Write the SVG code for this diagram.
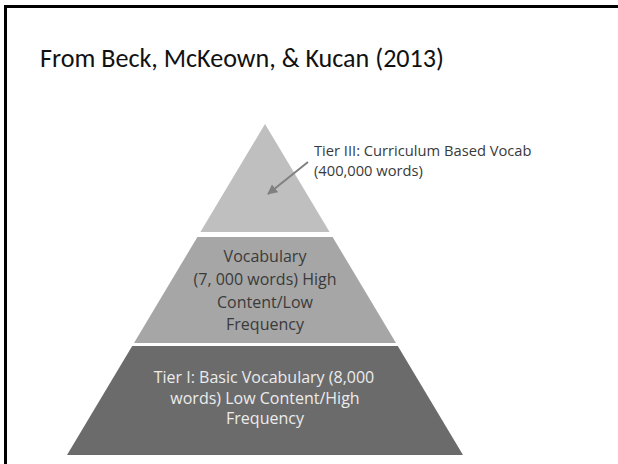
<svg xmlns="http://www.w3.org/2000/svg" width="618" height="464" viewBox="0 0 618 464">
  <style>
    .title { font-family: Calibri, Carlito, "Open Sans", "Liberation Sans", sans-serif; font-size: 26px; fill: #111; }
    .lbl { font-family: "Segoe UI", "Open Sans", "Noto Sans", sans-serif; font-size: 16px; }
    .callout { font-size: 14.7px; }
    .dark { fill: #3a3a3a; }
    .light { fill: #ececec; }
    .mid { text-anchor: middle; }
  </style>
  <defs>
    <marker id="arrowhead" viewBox="0 0 10 10" refX="9" refY="5" markerWidth="5" markerHeight="5" orient="auto">
      <path d="M0,0 L10,5 L0,10 z" fill="#808080"/>
    </marker>
  </defs>

  <rect width="618" height="464" fill="#ffffff"/>
  <!-- slide frame, only top and left edges fall inside the view -->
  <rect x="5.5" y="6.5" width="640" height="480" fill="none" stroke="#000" stroke-width="3"/>

  <text class="title" x="40" y="67" textLength="404" lengthAdjust="spacingAndGlyphs">From Beck, McKeown, &amp; Kucan (2013)</text>

  <g id="tier3">
    <polygon points="265,124 329.6,232 200.4,232" fill="#bfbfbf"/>
    <text class="lbl callout dark" x="314" y="156">Tier III: Curriculum Based Vocab</text>
    <text class="lbl callout dark" x="314" y="176">(400,000 words)</text>
  </g>

  <g id="tier2">
    <polygon points="197.4,237 332.6,237 396,343 134,343" fill="#a6a6a6"/>
    <text class="lbl dark mid" x="265" y="262">Vocabulary</text>
    <text class="lbl dark mid" x="265" y="285">(7, 000 words) High</text>
    <text class="lbl dark mid" x="265" y="308">Content/Low</text>
    <text class="lbl dark mid" x="265" y="330">Frequency</text>
  </g>

  <g id="tier1">
    <polygon points="132.2,346 397.8,346 463,455 67,455" fill="#6b6b6b"/>
    <text class="lbl light mid" x="264" y="383">Tier I: Basic Vocabulary (8,000</text>
    <text class="lbl light mid" x="265" y="404">words) Low Content/High</text>
    <text class="lbl light mid" x="265" y="424">Frequency</text>
  </g>

  <g id="connectors">
    <line x1="308" y1="162" x2="268" y2="194" stroke="#808080" stroke-width="2" marker-end="url(#arrowhead)"/>
  </g>
</svg>
